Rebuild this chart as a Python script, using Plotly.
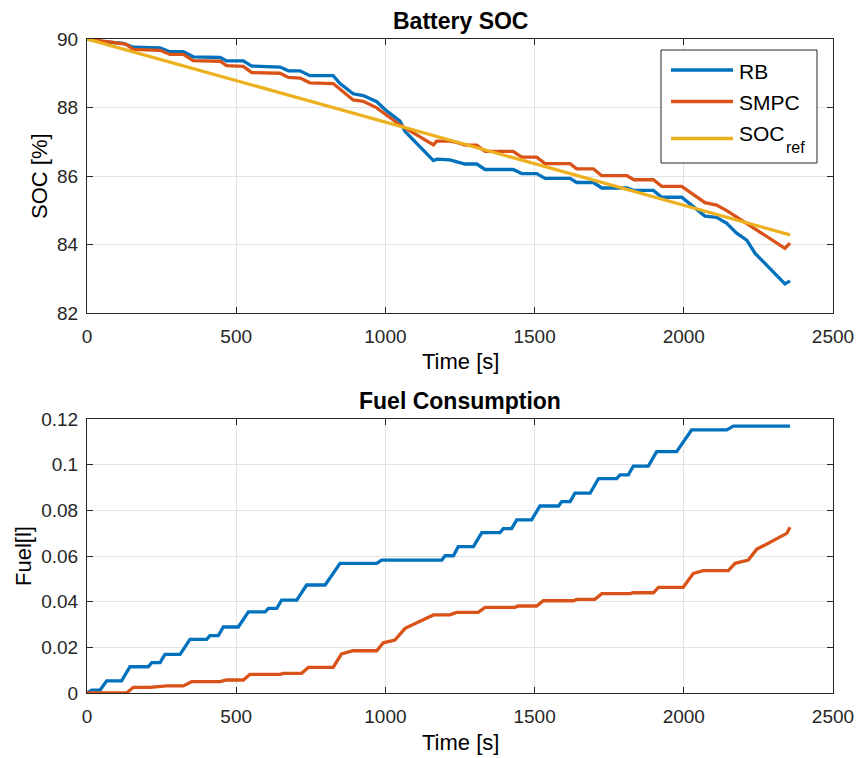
import plotly.graph_objects as go

# ---- Battery SOC traces (time in s, SOC in %) ----
rb_soc_t = [0, 55, 122, 144, 155, 245, 278, 323, 356, 446, 468, 524, 552, 647, 675, 714,
            747, 825, 848, 892, 926, 971, 1004, 1049, 1066, 1161, 1172, 1216, 1250, 1267,
            1306, 1334, 1428, 1457, 1507, 1535, 1619, 1641, 1697, 1725, 1809, 1831, 1898,
            1926, 1993, 2032, 2071, 2110, 2144, 2177, 2211, 2239, 2339, 2356]
rb_soc = [90.0, 89.92, 89.87, 89.78, 89.76, 89.74, 89.63, 89.63, 89.48, 89.46, 89.36, 89.36,
          89.21, 89.18, 89.07, 89.07, 88.93, 88.93, 88.70, 88.40, 88.35, 88.17, 87.90, 87.60,
          87.30, 86.45, 86.49, 86.47, 86.40, 86.35, 86.35, 86.19, 86.19, 86.07, 86.07, 85.93,
          85.93, 85.81, 85.81, 85.65, 85.65, 85.58, 85.58, 85.38, 85.38, 85.10, 84.83, 84.79,
          84.62, 84.33, 84.13, 83.74, 82.85, 82.94]

smpc_soc_t = [0, 40, 100, 130, 155, 245, 278, 323, 356, 446, 468, 524, 552, 647, 675, 714,
              747, 825, 892, 926, 971, 1049, 1161, 1172, 1216, 1239, 1267, 1306, 1334, 1428,
              1457, 1507, 1535, 1619, 1641, 1697, 1725, 1809, 1833, 1898, 1926, 1993, 2071,
              2110, 2144, 2211, 2339, 2356]
smpc_soc = [90.0, 89.95, 89.87, 89.85, 89.70, 89.67, 89.55, 89.55, 89.37, 89.35, 89.22, 89.20,
            89.02, 89.00, 88.88, 88.86, 88.72, 88.70, 88.22, 88.18, 87.99, 87.49, 86.91, 87.02,
            87.02, 86.98, 86.90, 86.90, 86.72, 86.72, 86.55, 86.55, 86.36, 86.36, 86.21, 86.21,
            86.01, 86.01, 85.89, 85.89, 85.70, 85.70, 85.22, 85.15, 84.99, 84.62, 83.89, 84.04]

ref_soc_t = [0, 2356]
ref_soc = [90.0, 84.28]

# ---- Cumulative fuel consumption (time in s, fuel in l) ----
rb_fuel_t = [0, 16, 44, 66, 116, 144, 205, 217, 245, 261, 312, 345, 401, 412, 440, 457, 507,
             541, 597, 608, 636, 652, 703, 736, 798, 848, 971, 987, 1189, 1200, 1228, 1244,
             1295, 1323, 1384, 1395, 1423, 1440, 1490, 1518, 1580, 1591, 1619, 1635, 1686,
             1714, 1775, 1786, 1814, 1831, 1881, 1909, 1976, 2026, 2144, 2166, 2356]
rb_fuel = [0.0, 0.0013, 0.0013, 0.0053, 0.0053, 0.0115, 0.0115, 0.0133, 0.0133, 0.0169, 0.0169,
           0.0235, 0.0235, 0.0251, 0.0251, 0.0289, 0.0289, 0.0355, 0.0355, 0.0371, 0.0371,
           0.0407, 0.0407, 0.0473, 0.0473, 0.0568, 0.0568, 0.0582, 0.0582, 0.0601, 0.0601,
           0.0641, 0.0641, 0.0702, 0.0702, 0.0720, 0.0720, 0.0758, 0.0758, 0.0819, 0.0819,
           0.0838, 0.0838, 0.0875, 0.0875, 0.0939, 0.0939, 0.0955, 0.0955, 0.0994, 0.0994,
           0.1057, 0.1057, 0.1152, 0.1152, 0.1169, 0.1169]

smpc_fuel_t = [0, 133, 155, 211, 267, 323, 351, 446, 468, 524, 546, 647, 658, 719, 742, 825,
               853, 892, 971, 993, 1032, 1066, 1161, 1216, 1239, 1311, 1334, 1434, 1445, 1507,
               1529, 1630, 1641, 1702, 1725, 1820, 1831, 1898, 1915, 1998, 2032, 2065, 2149,
               2172, 2216, 2244, 2345, 2356]
smpc_fuel = [0.0, 0.0, 0.0025, 0.0025, 0.0031, 0.0031, 0.0050, 0.0050, 0.0057, 0.0057, 0.0082,
             0.0082, 0.0086, 0.0086, 0.0112, 0.0112, 0.0171, 0.0185, 0.0185, 0.0220, 0.0232,
             0.0283, 0.0342, 0.0342, 0.0353, 0.0353, 0.0375, 0.0375, 0.0381, 0.0381, 0.0404,
             0.0404, 0.0410, 0.0410, 0.0435, 0.0435, 0.0439, 0.0439, 0.0463, 0.0463, 0.0524,
             0.0536, 0.0536, 0.0568, 0.0582, 0.0629, 0.0699, 0.0726]

# ---- Axis ticks ----
x_ticks = [0, 500, 1000, 1500, 2000, 2500]
soc_ticks = [82, 84, 86, 88, 90]
fuel_ticks = [0, 0.02, 0.04, 0.06, 0.08, 0.1, 0.12]
fuel_tick_labels = ["0", "0.02", "0.04", "0.06", "0.08", "0.1", "0.12"]

# ---- Legend entries for the SOC panel ----
legend_names = ["RB", "SMPC", "SOC"]
legend_colors = ["#0072BD", "#D95319", "#EDB120"]

C_RB, C_SMPC, C_REF = legend_colors
AX = "#262626"
GRID = "#E3E3E3"
FONT = "Liberation Sans, Arial, sans-serif"
W, H = 856, 758


def px(x):
    return x / W


def py(y):
    return 1 - y / H


fig = go.Figure()
lw = 3.3
fig.add_trace(go.Scatter(x=rb_soc_t, y=rb_soc, mode="lines", name="RB",
                         line=dict(color=C_RB, width=lw), xaxis="x", yaxis="y"))
fig.add_trace(go.Scatter(x=smpc_soc_t, y=smpc_soc, mode="lines", name="SMPC",
                         line=dict(color=C_SMPC, width=lw), xaxis="x", yaxis="y"))
fig.add_trace(go.Scatter(x=ref_soc_t, y=ref_soc, mode="lines", name="SOC ref",
                         line=dict(color=C_REF, width=lw), xaxis="x", yaxis="y"))
fig.add_trace(go.Scatter(x=rb_fuel_t, y=rb_fuel, mode="lines", name="RB",
                         line=dict(color=C_RB, width=lw), xaxis="x2", yaxis="y2"))
fig.add_trace(go.Scatter(x=smpc_fuel_t, y=smpc_fuel, mode="lines", name="SMPC",
                         line=dict(color=C_SMPC, width=lw), xaxis="x2", yaxis="y2"))

x_dom = [px(87), px(833)]
top_dom = [py(313), py(39)]
bot_dom = [py(693), py(419)]

common = dict(showline=True, linecolor=AX, linewidth=1, mirror="ticks", ticks="inside",
              ticklen=6, tickcolor=AX, showgrid=True, gridcolor=GRID, gridwidth=1,
              zeroline=False, automargin=False,
              tickfont=dict(family=FONT, size=19, color=AX))

fig.update_layout(
    template="none",
    width=W, height=H, margin=dict(l=0, r=0, t=0, b=0, autoexpand=False),
    paper_bgcolor="white", plot_bgcolor="white",
    font=dict(family=FONT, color=AX),
    showlegend=False,
    xaxis=dict(domain=x_dom, anchor="y", range=[0, 2500], tickvals=x_ticks,
               ticklabelstandoff=6, **common),
    yaxis=dict(domain=top_dom, anchor="x", range=[82, 90], tickvals=soc_ticks,
               ticklabelstandoff=4, **common),
    xaxis2=dict(domain=x_dom, anchor="y2", range=[0, 2500], tickvals=x_ticks,
                ticklabelstandoff=6, **common),
    yaxis2=dict(domain=bot_dom, anchor="x2", range=[0, 0.12], tickvals=fuel_ticks,
                ticktext=fuel_tick_labels, ticklabelstandoff=4, **common),
)

cx = px(460)
texts = [
    ("<b>Battery SOC</b>", cx, py(21), 23, 0),
    ("<b>Fuel Consumption</b>", cx, py(401), 23, 0),
    ("Time [s]", cx, py(362), 22, 0),
    ("Time [s]", cx, py(742), 22, 0),
    ("SOC [%]", px(40), py(176), 22, -90),
    ("Fuel[l]", px(23), py(556), 22, -90),
]
for txt, x, y, size, ang in texts:
    fig.add_annotation(text=txt, x=x, y=y, xref="paper", yref="paper", showarrow=False,
                       xanchor="center", yanchor="middle", textangle=ang,
                       font=dict(family=FONT, size=size, color="black"))

# Legend box with line samples
fig.add_shape(type="rect", xref="paper", yref="paper", x0=px(661), x1=px(817),
              y0=py(163), y1=py(50), line=dict(color=AX, width=1), fillcolor="white",
              layer="above")
legend_line_y = [70, 101.5, 138.5]
legend_text_y = [71, 102.5, 134]
for name, color, ly, ty in zip(legend_names, legend_colors, legend_line_y, legend_text_y):
    fig.add_shape(type="line", xref="paper", yref="paper", x0=px(671), x1=px(733),
                  y0=py(ly), y1=py(ly), line=dict(color=color, width=lw), layer="above")
    fig.add_annotation(text=name, x=px(737), y=py(ty), xref="paper", yref="paper",
                       showarrow=False, xanchor="left", yanchor="middle",
                       font=dict(family=FONT, size=21, color="black"))
fig.add_annotation(text="ref", x=px(784), y=py(147), xref="paper", yref="paper",
                   showarrow=False, xanchor="left", yanchor="middle",
                   font=dict(family=FONT, size=16, color="black"))

fig.write_html("out.html")
